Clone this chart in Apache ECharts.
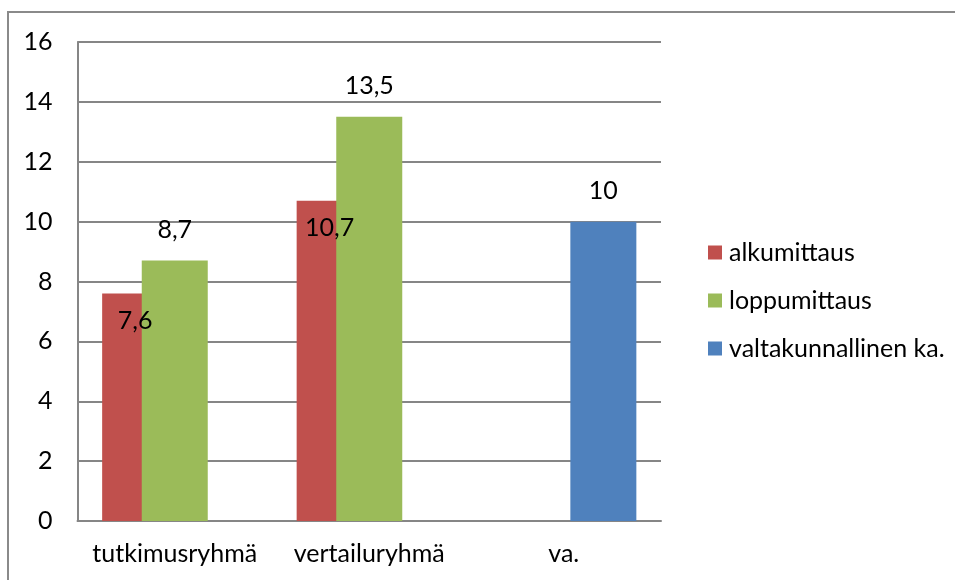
<!DOCTYPE html>
<html>
<head>
<meta charset="utf-8">
<script src="https://cdn.jsdelivr.net/npm/echarts@6/dist/echarts.min.js"></script>
<style>
  html, body { margin: 0; padding: 0; background: #ffffff; }
  #chart { width: 955px; height: 580px; }
</style>
</head>
<body>
<div id="chart"></div>
<script>
// Groups on the category axis
const categories = ['tutkimusryhmä', 'vertailuryhmä', 'va.'];
// Series values (null where a group has no bar)
const alkumittaus = [7.6, 10.7, null];
const loppumittaus = [8.7, 13.5, null];
const valtakunnallinen = [null, null, 10];
// Value axis range and step
const yMin = 0;
const yMax = 16;
const yStep = 2;

const FONT = 'Lato';
const FS = 25;
const fmt = p => String(p.value).replace('.', ',');

const chart = echarts.init(document.getElementById('chart'));

const labelBase = {
  show: true,
  color: '#000000',
  fontFamily: FONT,
  fontSize: FS,
  formatter: fmt
};

chart.setOption({
  animation: false,
  backgroundColor: '#ffffff',
  textStyle: { fontFamily: FONT },
  graphic: [{
    type: 'rect',
    shape: { x: 8, y: 12, width: 1200, height: 1000 },
    style: { fill: 'none', stroke: '#8a8a8a', lineWidth: 2 },
    silent: true
  }],
  grid: { left: 77.5, right: 294, top: 42, bottom: 59, containLabel: false },
  legend: {
    orient: 'vertical',
    left: 703,
    top: 235,
    itemWidth: 14,
    itemHeight: 14,
    itemGap: 23,
    icon: 'rect',
    textStyle: { fontFamily: FONT, fontSize: FS, color: '#000000', padding: [0, 0, 0, 2] },
    data: ['alkumittaus', 'loppumittaus', 'valtakunnallinen ka.']
  },
  xAxis: {
    type: 'category',
    data: categories,
    axisLine: { show: true, lineStyle: { color: '#868686', width: 2 } },
    axisTick: { show: false },
    axisLabel: { interval: 0, hideOverlap: false, fontFamily: FONT, fontSize: FS, color: '#000000', margin: 20 }
  },
  yAxis: {
    type: 'value',
    min: yMin,
    max: yMax,
    interval: yStep,
    axisLine: { show: true, lineStyle: { color: '#868686', width: 2 } },
    axisTick: { show: false },
    axisLabel: { fontFamily: FONT, fontSize: FS, color: '#000000', margin: 25 },
    splitLine: { show: true, lineStyle: { color: '#868686', width: 2 } }
  },
  series: [
    {
      name: 'alkumittaus',
      type: 'bar',
      data: alkumittaus,
      barWidth: 66,
      barGap: '-40%',
      itemStyle: { color: '#C0504D' },
      label: Object.assign({}, labelBase, { position: 'insideTop', distance: 15 })
    },
    {
      name: 'loppumittaus',
      type: 'bar',
      data: loppumittaus,
      barWidth: 66,
      barGap: '-40%',
      itemStyle: { color: '#9BBB59' },
      label: Object.assign({}, labelBase, { position: 'top', distance: 18 })
    },
    {
      name: 'valtakunnallinen ka.',
      type: 'bar',
      data: valtakunnallinen,
      barWidth: 66,
      barGap: '-40%',
      itemStyle: { color: '#4F81BD' },
      label: Object.assign({}, labelBase, { position: 'top', distance: 18 })
    }
  ]
});
</script>
</body>
</html>
